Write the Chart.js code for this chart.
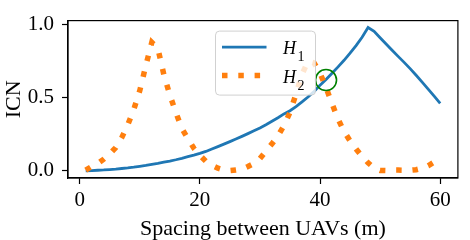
<!DOCTYPE html>
<html><head><meta charset="utf-8">
<script src="https://cdn.jsdelivr.net/npm/chart.js@4.4.1/dist/chart.umd.min.js"></script>
<style>html,body{margin:0;padding:0;background:#fff;}</style>
</head><body>
<canvas id="c" width="470" height="240"></canvas>
<script>
// ---- data ----
const spacing = [1,2,3,4,5,6,7,8,9,10,11,12,13,14,15,16,17,18,19,20,21,22,23,24,25,26,27,28,29,30,
                 31,32,33,34,35,36,37,38,39,40,41,42,43,44,45,46,47,48,49,50,51,52,53,54,55,56,57,58,59,60];
const icnH1 = [0.000,0.002,0.004,0.006,0.009,0.012,0.016,0.020,0.025,0.031,
               0.037,0.044,0.051,0.059,0.067,0.076,0.086,0.097,0.108,0.120,
               0.133,0.150,0.166,0.183,0.200,0.218,0.236,0.255,0.274,0.294,
               0.316,0.340,0.364,0.390,0.412,0.440,0.472,0.506,0.544,0.586,
               0.625,0.668,0.712,0.757,0.806,0.858,0.915,0.982,0.956,0.912,
               0.869,0.826,0.784,0.743,0.700,0.655,0.608,0.560,0.512,0.462];
const icnH2 = [0.005,0.030,0.050,0.080,0.115,0.160,0.228,0.315,0.420,0.550,
               0.720,0.880,0.840,0.660,0.520,0.400,0.290,0.220,0.155,0.107,
               0.065,0.038,0.018,0.005,0.002,0.006,0.012,0.030,0.050,0.085,
               0.135,0.185,0.240,0.310,0.400,0.525,0.660,0.750,0.740,0.670,
               0.570,0.460,0.355,0.270,0.205,0.150,0.100,0.055,0.020,0.003,
               0.002,0.005,0.005,0.004,0.004,0.008,0.018,0.035,0.060,0.100];
const crossing = [{x: 41.0, y: 0.622}];
const seriesNames = ['H\u2081', 'H\u2082'];
const xTickValues = [0, 20, 40, 60];
const yTickValues = [0.0, 0.5, 1.0];
const xLabel = 'Spacing between UAVs (m)';
const yLabel = 'ICN';

// ---- build ----
const FONT = 'Liberation Serif';
const toXY = (xs, ys) => xs.map((x, i) => ({x: x, y: ys[i]}));

const framePlugin = {
  id: 'frame',
  afterDatasetsDraw(chart) {
    const {ctx, chartArea: a} = chart;
    ctx.save();
    ctx.strokeStyle = '#000';
    ctx.lineWidth = 1.2;
    ctx.strokeRect(a.left, a.top, a.right - a.left, a.bottom - a.top);
    ctx.restore();
  }
};

const subMap = {'\u2080':'0','\u2081':'1','\u2082':'2','\u2083':'3'};
const legendPlugin = {
  id: 'boxLegend',
  afterDatasetsDraw(chart) {
    const ctx = chart.ctx;
    const a = chart.chartArea;
    const bx = a.left + 147.5, by = a.top + 10.5, bw = 100, bh = 64;
    ctx.save();
    ctx.beginPath();
    ctx.roundRect(bx, by, bw, bh, 4);
    ctx.fillStyle = 'rgba(255,255,255,0.8)';
    ctx.fill();
    ctx.strokeStyle = 'rgba(204,204,204,0.9)';
    ctx.lineWidth = 1;
    ctx.stroke();
    const items = chart.data.datasets.filter(d => d.inLegend)
      .sort((p, q) => seriesNames.indexOf(p.label) - seriesNames.indexOf(q.label));
    items.forEach((d, i) => {
      const ry = by + 16 + i * 28.3;
      ctx.save();
      ctx.beginPath();
      ctx.strokeStyle = d.borderColor;
      ctx.lineWidth = d.borderWidth;
      ctx.setLineDash(d.borderDash || []);
      ctx.lineCap = 'butt';
      ctx.moveTo(bx + 6.5, ry);
      ctx.lineTo(bx + 51, ry);
      ctx.stroke();
      ctx.restore();
      let base = '', sub = '';
      for (const ch of d.label) { if (subMap[ch]) sub += subMap[ch]; else base += ch; }
      ctx.fillStyle = '#000';
      ctx.textBaseline = 'alphabetic';
      ctx.textAlign = 'left';
      ctx.font = 'italic 18px "' + FONT + '"';
      const tx = bx + 67.5, base_y = ry + 7.3;
      ctx.fillText(base, tx, base_y);
      const w = ctx.measureText(base).width;
      ctx.font = '14px "' + FONT + '"';
      ctx.fillText(sub, tx + w + 1.5, base_y + 7);
    });
    ctx.restore();
  }
};

new Chart(document.getElementById('c'), {
  type: 'line',
  data: {
    datasets: [
      {
        label: 'circle', data: crossing, showLine: false,
        pointStyle: 'circle', pointRadius: 10.5, pointBorderWidth: 1.6,
        pointBorderColor: '#008000', pointBackgroundColor: 'rgba(0,0,0,0)',
        borderColor: '#008000', order: 0, inLegend: false
      },
      {
        label: seriesNames[1], data: toXY(spacing, icnH2),
        borderColor: '#ff7f0e', borderWidth: 5.5, borderDash: [5.5, 10.8],
        pointRadius: 0, fill: false, tension: 0, order: 1, inLegend: true
      },
      {
        label: seriesNames[0], data: toXY(spacing, icnH1),
        borderColor: '#1f77b4', borderWidth: 2.8,
        pointRadius: 0, fill: false, tension: 0, order: 2, inLegend: true
      }
    ]
  },
  options: {
    responsive: false, animation: false, devicePixelRatio: 1,
    layout: {padding: {top: 7, right: 8, left: 0, bottom: 0}},
    plugins: {legend: {display: false}, tooltip: {enabled: false}},
    scales: {
      x: {
        type: 'linear', min: -1.95, max: 62.95,
        afterFit: s => { s.height = 62; },
        afterBuildTicks: s => { s.ticks = xTickValues.map(v => ({value: v})); },
        grid: {display: true, drawOnChartArea: false, drawTicks: true, tickLength: 6, tickColor: '#000', tickWidth: 1.2},
        border: {display: true, color: '#000', width: 1.2},
        ticks: {color: '#000', font: {family: FONT, size: 21}, padding: 4, maxRotation: 0, autoSkip: false,
                callback: v => String(v)},
        title: {display: true, text: xLabel, color: '#000', font: {family: FONT, size: 22, lineHeight: 1},
                padding: {top: 0, bottom: 0}}
      },
      y: {
        type: 'linear', min: -0.049, max: 1.029,
        afterFit: s => { s.width = 68; },
        afterBuildTicks: s => { s.ticks = yTickValues.map(v => ({value: v})); },
        grid: {display: true, drawOnChartArea: false, drawTicks: true, tickLength: 6, tickColor: '#000', tickWidth: 1.2},
        border: {display: true, color: '#000', width: 1.2},
        ticks: {color: '#000', font: {family: FONT, size: 21}, padding: 8, autoSkip: false,
                callback: v => Number(v).toFixed(1)},
        title: {display: true, text: yLabel, color: '#000', font: {family: FONT, size: 22, lineHeight: 1},
                padding: {top: 3, bottom: 0}}
      }
    }
  },
  plugins: [framePlugin, legendPlugin]
});
</script>
</body></html>
